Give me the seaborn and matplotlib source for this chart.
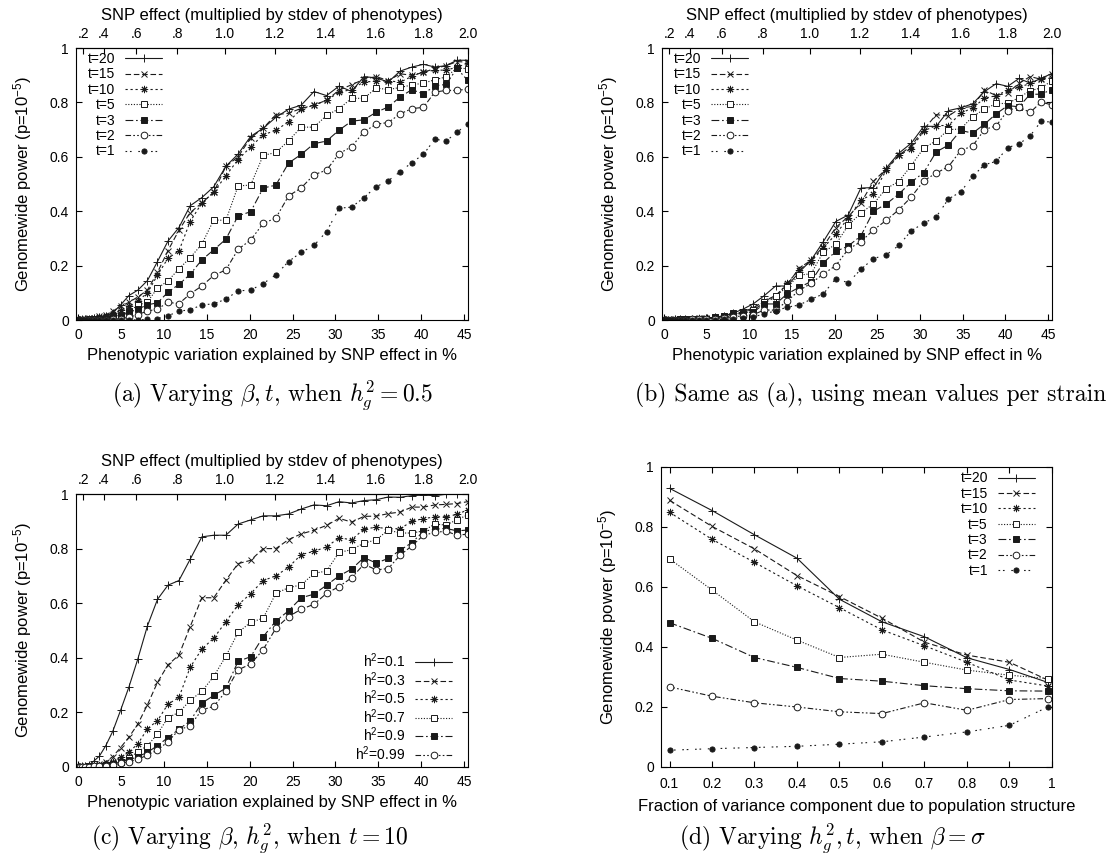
import numpy as np
import pandas as pd
import matplotlib
matplotlib.use("Agg")
import matplotlib.pyplot as plt
import seaborn as sns

# ---------------- data ----------------
# x positions (phenotypic variation explained, %) for SNP effects 0, .05, ..., 2.0
pct = [0.0, 0.05, 0.21, 0.47, 0.83, 1.28, 1.84, 2.48, 3.22, 4.04,
       4.94, 5.92, 6.97, 8.08, 9.25, 10.47, 11.75, 13.06, 14.42, 15.81,
       17.22, 18.65, 20.11, 21.57, 23.05, 24.53, 26.01, 27.49, 28.96, 30.42,
       31.88, 33.32, 34.75, 36.15, 37.54, 38.91, 40.26, 41.58, 42.89, 44.16,
       45.41]
beta_ticks = [0.2, 0.4, 0.6, 0.8, 1.0, 1.2, 1.4, 1.6, 1.8, 2.0]
beta_labels = [".2", ".4", ".6", ".8", "1.0", "1.2", "1.4", "1.6", "1.8", "2.0"]
pct_ticks = [0, 5, 10, 15, 20, 25, 30, 35, 40, 45]
y_ticks = [0, 0.2, 0.4, 0.6, 0.8, 1.0]
y_labels = ["0", "0.2", "0.4", "0.6", "0.8", "1"]

t_labels = ["t=20", "t=15", "t=10", "t=5", "t=3", "t=2", "t=1"]
h_labels = ["h$^2$=0.1", "h$^2$=0.3", "h$^2$=0.5", "h$^2$=0.7", "h$^2$=0.9", "h$^2$=0.99"]

a_t20 = [0, 0, 0, .002, .003, .005, .008, .012, .015, .026,
         .055, .09, .11, .145, .215, .29, .34, .42, .45, .49,
         .565, .61, .675, .705, .745, .775, .79, .84, .825, .86,
         .84, .895, .89, .875, .915, .93, .94, .93, .935, .955,
         .955]
a_t15 = [0, 0, 0, .002, .004, .006, .009, .013, .02, .032,
         .05, .065, .085, .11, .175, .255, .33, .395, .43, .47,
         .565, .60, .67, .705, .755, .76, .778, .79, .808, .845,
         .865, .885, .895, .88, .905, .90, .91, .925, .935, .95,
         .948]
a_t10 = [0, 0, 0, .001, .003, .005, .007, .01, .015, .022,
         .035, .05, .07, .10, .165, .227, .254, .362, .43, .47,
         .53, .59, .636, .681, .697, .729, .775, .79, .807, .838,
         .847, .876, .877, .88, .874, .896, .913, .918, .919, .929,
         .944]
a_t5 = [0, 0, 0, 0, .001, .002, .003, .004, .006, .01,
        .02, .032, .054, .067, .117, .144, .188, .229, .279, .368,
        .366, .493, .496, .605, .616, .659, .709, .709, .752, .777,
        .815, .815, .853, .847, .855, .864, .871, .883, .894, .926,
        .924]
a_t3 = [0, 0, 0, 0, .001, .001, .002, .002, .004, .008,
        .015, .028, .04, .056, .063, .102, .131, .168, .221, .258,
        .297, .383, .398, .485, .496, .577, .609, .648, .658, .698,
        .731, .736, .764, .783, .82, .847, .831, .861, .866, .925,
        .881]
a_t2 = [0, 0, 0, 0, 0, .001, .001, .001, .001, .003,
        .005, .01, .02, .033, .04, .065, .06, .096, .125, .164,
        .184, .26, .294, .355, .375, .456, .486, .534, .551, .612,
        .637, .692, .72, .726, .758, .777, .782, .838, .844, .844,
        .849]
a_t1 = [0, 0, 0, 0, 0, 0, 0, 0, 0, 0,
        0, 0, .001, .002, .005, .015, .033, .037, .056, .059,
        .077, .107, .11, .134, .166, .215, .249, .274, .325, .411,
        .415, .45, .49, .512, .545, .579, .609, .665, .658, .69,
        .721]

b_t20 = [0, 0, 0, 0, .001, .002, .003, .004, .004, .005,
         .006, .01, .015, .025, .04, .06, .09, .125, .125, .175,
         .22, .288, .362, .386, .485, .487, .558, .613, .65, .712,
         .712, .77, .78, .795, .84, .869, .859, .888, .871, .888,
         .906]
b_t15 = [0, 0, 0, 0, .001, .002, .003, .004, .005, .006,
         .008, .01, .015, .022, .03, .045, .07, .09, .13, .19,
         .22, .27, .34, .38, .43, .51, .555, .605, .64, .70,
         .755, .75, .78, .785, .845, .825, .835, .87, .895, .885,
         .905]
b_t10 = [0, 0, 0, 0, .001, .002, .003, .004, .005, .006,
         .008, .01, .014, .02, .028, .04, .062, .085, .135, .185,
         .215, .265, .315, .375, .44, .465, .55, .605, .63, .695,
         .715, .715, .76, .78, .815, .825, .845, .855, .87, .885,
         .89]
b_t5 = [0, 0, 0, 0, 0, .001, .002, .003, .004, .004,
        .005, .006, .01, .018, .025, .035, .065, .09, .12, .165,
        .17, .25, .278, .348, .393, .427, .483, .509, .568, .632,
        .659, .70, .702, .748, .775, .796, .796, .818, .843, .853,
        .879]
b_t3 = [0, 0, 0, 0, 0, .001, .002, .003, .004, .004,
        .005, .01, .015, .025, .022, .03, .059, .059, .096, .12,
        .141, .21, .252, .272, .309, .40, .426, .463, .507, .542,
        .618, .643, .697, .687, .72, .758, .788, .784, .83, .83,
        .847]
b_t2 = [0, 0, 0, 0, 0, 0, .001, .001, .002, .003,
        .003, .005, .008, .012, .015, .02, .037, .036, .07, .108,
        .135, .169, .2, .26, .288, .331, .366, .405, .452, .512,
        .54, .564, .623, .64, .70, .714, .77, .783, .763, .801,
        .791]
b_t1 = [0, 0, 0, 0, 0, 0, 0, 0, 0, 0,
        0, .001, .002, .004, .008, .012, .022, .034, .047, .055,
        .076, .096, .152, .137, .186, .226, .239, .274, .328, .356,
        .379, .445, .471, .528, .571, .583, .634, .647, .677, .73,
        .728]

c_h01 = [0, 0, .001, .002, .004, .008, .022, .04, .078, .131,
         .207, .293, .397, .517, .614, .666, .683, .761, .843, .849,
         .849, .89, .905, .92, .92, .927, .945, .96, .957, .972,
         .967, .976, .979, .989, .988, .994, .996, .994, .999, 1.0,
         1.0]
c_h03 = [0, 0, 0, .001, .002, .004, .006, .01, .02, .038,
         .071, .109, .158, .228, .31, .374, .41, .514, .62, .62,
         .684, .745, .757, .80, .80, .833, .854, .867, .885, .911,
         .897, .918, .919, .928, .934, .952, .952, .96, .962, .965,
         .972]
c_h05 = [0, 0, 0, .001, .002, .003, .005, .008, .012, .02,
         .035, .055, .085, .14, .17, .23, .255, .365, .432, .472,
         .532, .594, .635, .683, .70, .732, .778, .79, .806, .84,
         .832, .872, .878, .873, .873, .90, .91, .916, .917, .925,
         .942]
c_h07 = [0, 0, 0, 0, .001, .002, .003, .005, .008, .012,
         .02, .032, .056, .078, .121, .181, .20, .244, .277, .332,
         .406, .493, .53, .545, .636, .657, .667, .709, .718, .786,
         .796, .82, .832, .868, .857, .857, .865, .89, .886, .906,
         .923]
c_h09 = [0, 0, 0, 0, .001, .002, .003, .004, .007, .012,
         .02, .026, .038, .054, .078, .108, .138, .169, .234, .262,
         .289, .387, .404, .477, .535, .572, .62, .633, .666, .70,
         .725, .767, .747, .764, .794, .822, .863, .871, .874, .865,
         .868]
c_h099 = [0, 0, 0, 0, .001, .001, .002, .003, .005, .008,
          .013, .02, .028, .044, .062, .093, .136, .151, .209, .222,
          .277, .356, .377, .43, .508, .551, .578, .596, .636, .661,
          .693, .743, .722, .727, .776, .81, .849, .859, .864, .849,
          .853]

d_x = [0.1, 0.2, 0.3, 0.4, 0.5, 0.6, 0.7, 0.8, 0.9, 0.99]
d_xticks = [0.1, 0.2, 0.3, 0.4, 0.5, 0.6, 0.7, 0.8, 0.9, 1.0]
d_xlabels = ["0.1", "0.2", "0.3", "0.4", "0.5", "0.6", "0.7", "0.8", "0.9", "1"]
d_t20 = [.929, .855, .774, .696, .559, .484, .434, .364, .325, .282]
d_t15 = [.889, .802, .727, .638, .568, .496, .416, .373, .349, .29]
d_t10 = [.849, .759, .682, .604, .531, .457, .404, .349, .29, .27]
d_t5 = [.694, .59, .484, .423, .365, .376, .349, .323, .306, .295]
d_t3 = [.481, .429, .365, .332, .295, .286, .271, .261, .254, .253]
d_t2 = [.267, .236, .214, .2, .184, .178, .214, .189, .225, .228]
d_t1 = [.056, .061, .065, .069, .076, .084, .1, .117, .139, .2]

# ---------------- style ----------------
sns.set_theme(style="white")
plt.rcParams.update({
    "font.family": ["Liberation Sans", "DejaVu Sans"],
    "font.size": 10,
    "mathtext.fontset": "custom",
    "mathtext.rm": "Liberation Sans",
    "mathtext.it": "Liberation Sans:italic",
    "mathtext.bf": "Liberation Sans:bold",
    "mathtext.sf": "Liberation Sans",
    "axes.edgecolor": "black",
    "axes.linewidth": 0.8,
    "text.color": "black",
    "axes.labelcolor": "black",
    "xtick.color": "black",
    "ytick.color": "black",
})

LW = 0.8
line_styles = [
    dict(linestyle="-", marker="+", markersize=6, markerfacecolor="k"),
    dict(linestyle=(0, (5, 2.5)), marker="x", markersize=4.5, markerfacecolor="k"),
    dict(linestyle=(0, (2, 2.5)), marker=(8, 2, 0), markersize=5.2, markerfacecolor="k"),
    dict(linestyle=(0, (1, 1.5)), marker="s", markersize=4.8, markerfacecolor="white"),
    dict(linestyle=(0, (7, 2.5, 1.5, 2.5)), marker="s", markersize=4.8, markerfacecolor="k"),
    dict(linestyle=(0, (5, 2, 1.5, 2, 1.5, 2)), marker="o", markersize=4.8, markerfacecolor="white"),
    dict(linestyle=(0, (1.5, 2.5, 1.5, 6)), marker="o", markersize=3.7, markerfacecolor="k"),
]


def draw_series(ax, x, ys, labels):
    for y, lab, st in zip(ys, labels, line_styles):
        df = pd.DataFrame({"x": x, "y": y})
        sns.lineplot(data=df, x="x", y="y", ax=ax, color="k", lw=LW,
                     markeredgecolor="k", markeredgewidth=0.7,
                     estimator=None, errorbar=None, sort=False,
                     label=lab, legend=False, **st)


C = 0.208


def pct_to_beta(p):
    p = np.clip(np.asarray(p, dtype=float) / 100.0, 0.0, 0.95)
    return np.sqrt(p / ((1.0 - p) * C))


def beta_to_pct(b):
    b2 = C * np.asarray(b, dtype=float) ** 2
    return 100.0 * b2 / (1.0 + b2)


def setup_y(ax):
    ax.set_ylim(0, 1)
    ax.set_yticks(y_ticks, y_labels)
    ax.set_ylabel("Genomewide power (p=10$^{-5}$)", labelpad=11)


def setup_pct(ax):
    ax.set_xlim(-0.25, 45.45)
    ax.set_xticks(pct_ticks, [str(v) for v in pct_ticks])
    ax.set_xlabel("Phenotypic variation explained by SNP effect in %", labelpad=4)
    ax.tick_params(direction="in", length=4, width=0.8, top=False, right=True,
                   bottom=True, left=True, labelsize=10)
    ax.tick_params(axis="x", pad=6)
    ax.tick_params(axis="y", pad=5)
    sec = ax.secondary_xaxis("top", functions=(pct_to_beta, beta_to_pct))
    sec.set_xticks(beta_ticks, beta_labels)
    sec.tick_params(direction="in", length=4, width=0.8, labelsize=10, pad=5)
    sec.set_xlabel("SNP effect (multiplied by stdev of phenotypes)", labelpad=5)


W, H = 1112, 866
fig = plt.figure(figsize=(W / 100, H / 100), dpi=100)


def rect(l, t, r, b):
    return [l / W, 1 - b / H, (r - l) / W, (b - t) / H]


leg_kw = dict(frameon=False, markerfirst=False, handlelength=2.7,
              handletextpad=0.7, borderpad=0.0,
              borderaxespad=0.0, fontsize=10)

# (a)
ax_a = fig.add_axes(rect(76, 48, 468, 320))
draw_series(ax_a, pct, [a_t20, a_t15, a_t10, a_t5, a_t3, a_t2, a_t1], t_labels)
setup_pct(ax_a)
setup_y(ax_a)
ax_a.legend(loc="upper left", bbox_to_anchor=(0.03, 0.985), labelspacing=0.1, **leg_kw)

# (b)
ax_b = fig.add_axes(rect(662, 48, 1052, 320))
draw_series(ax_b, pct, [b_t20, b_t15, b_t10, b_t5, b_t3, b_t2, b_t1], t_labels)
setup_pct(ax_b)
setup_y(ax_b)
ax_b.legend(loc="upper left", bbox_to_anchor=(0.03, 0.985), labelspacing=0.1, **leg_kw)

# (c)
ax_c = fig.add_axes(rect(76, 494, 468, 767))
draw_series(ax_c, pct, [c_h01, c_h03, c_h05, c_h07, c_h09, c_h099], h_labels)
setup_pct(ax_c)
setup_y(ax_c)
ax_c.legend(loc="lower right", bbox_to_anchor=(0.96, 0.015), labelspacing=0.0, **leg_kw)

# (d)
ax_d = fig.add_axes(rect(661, 467, 1052, 767))
draw_series(ax_d, d_x, [d_t20, d_t15, d_t10, d_t5, d_t3, d_t2, d_t1], t_labels)
ax_d.set_xlim(0.08, 1.0)
ax_d.set_xticks(d_xticks, d_xlabels)
ax_d.set_xlabel("Fraction of variance component due to population structure", labelpad=6)
setup_y(ax_d)
ax_d.tick_params(direction="in", length=4, width=0.8, top=True, right=True,
                 bottom=True, left=True, labelsize=10)
ax_d.tick_params(axis="x", pad=7)
ax_d.tick_params(axis="y", pad=5)
ax_d.legend(loc="upper right", bbox_to_anchor=(0.957, 0.985), labelspacing=0.1, **leg_kw)

# captions (Computer Modern look)
cap_kw = dict(fontsize=17, family="cmr10", math_fontfamily="cm", va="center")
fig.text(272 / W, 1 - 395 / H,
         r"(a) Varying $\beta, t$, when $h_g^2 = 0.5$",
         ha="center", **cap_kw)
fig.text(1106 / W, 1 - 395 / H,
         r"(b) Same as (a), using mean values per strain",
         ha="right", **cap_kw)
fig.text(250 / W, 1 - 838 / H,
         r"(c) Varying $\beta$, $h_g^2$, when $t = 10$",
         ha="center", **cap_kw)
fig.text(832 / W, 1 - 838 / H,
         r"(d) Varying $h_g^2, t$, when $\beta = \sigma$",
         ha="center", **cap_kw)

fig.savefig("out.png", dpi=100)
